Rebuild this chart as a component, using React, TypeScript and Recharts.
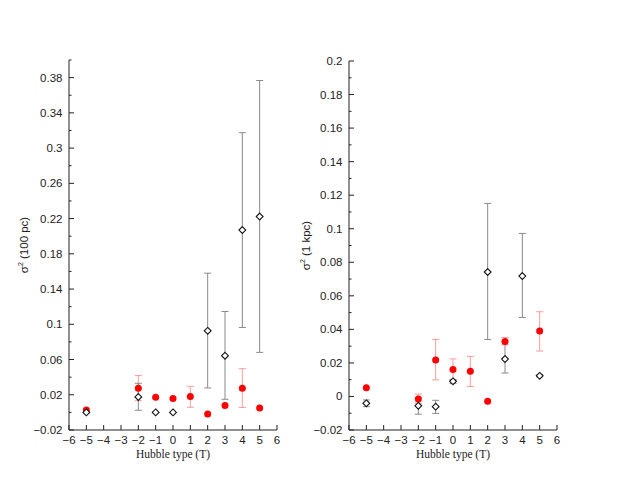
import React from "react"
import { ScatterChart, Scatter, XAxis, YAxis, ErrorBar } from "recharts"

// Hubble types along x
const types = [-5, -2, -1, 0, 1, 2, 3, 4, 5]

// sigma^2 at 100 pc
const black100 = [0.0, 0.0175, 0.0, 0.0, null, 0.0926, 0.0643, 0.207, 0.2223]
const black100Lo = [null, 0.0024, null, null, null, 0.0277, 0.0149, 0.0964, 0.0681]
const black100Hi = [null, 0.033, null, null, null, 0.158, 0.1145, 0.3175, 0.3767]
const red100 = [0.0027, 0.0274, 0.0172, 0.0157, 0.018, -0.0017, 0.0077, 0.0274, 0.0051]
const red100Lo = [null, 0.0133, null, null, 0.0058, null, null, 0.0055, null]
const red100Hi = [null, 0.0418, null, null, 0.0296, null, null, 0.0496, null]

// sigma^2 at 1 kpc
const black1k = [-0.0041, -0.0056, -0.0061, 0.009, null, 0.0742, 0.0223, 0.0718, 0.0123]
const black1kLo = [-0.0061, -0.0106, -0.0101, 0.0078, null, 0.034, 0.014, 0.0471, 0.0117]
const black1kHi = [-0.0021, -0.0008, -0.0023, 0.0101, null, 0.1151, 0.033, 0.0972, 0.0129]
const red1k = [0.0052, -0.0015, 0.0218, 0.0161, 0.0151, -0.0029, 0.0328, null, 0.039]
const red1kLo = [null, -0.0041, 0.0099, 0.0095, 0.006, null, 0.0308, null, 0.0271]
const red1kHi = [null, 0.0014, 0.034, 0.0224, 0.0239, null, 0.0352, null, 0.0505]

// axis ticks
const xTicks = [-6, -5, -4, -3, -2, -1, 0, 1, 2, 3, 4, 5, 6]
const y100Ticks = [-0.02, 0.02, 0.06, 0.1, 0.14, 0.18, 0.22, 0.26, 0.3, 0.34, 0.38]
const y100Minor = [0, 0.04, 0.08, 0.12, 0.16, 0.2, 0.24, 0.28, 0.32, 0.36, 0.4]
const y1kTicks = [-0.02, 0, 0.02, 0.04, 0.06, 0.08, 0.1, 0.12, 0.14, 0.16, 0.18, 0.2]
const y1kMinor = [-0.01, 0.01, 0.03, 0.05, 0.07, 0.09, 0.11, 0.13, 0.15, 0.17, 0.19]

const TICK_FONT = "'Liberation Sans', Arial, sans-serif"
const ERR_GREY = "#8a8a8a"
const ERR_RED = "#ff9a9a"

function build(vals: (number | null)[], lo: (number | null)[], hi: (number | null)[]) {
  const out: any[] = []
  vals.forEach((v, i) => {
    if (v == null) return
    const l = lo[i]
    const h = hi[i]
    out.push({
      t: types[i],
      v,
      err: l != null && h != null ? [v - l, h - v] : null,
    })
  })
  return out
}

const fmt = (v: number) => {
  const r = Math.round(v * 100) / 100
  if (r === 0) return "0"
  return (r < 0 ? "\u2212" : "") + String(Math.abs(r))
}

const isMajor = (v: number, majors: number[]) => majors.some((m) => Math.abs(m - v) < 1e-6)

const Diamond = (props: any) => {
  const { cx, cy } = props
  if (cx == null || cy == null) return null
  const r = 3.4
  return (
    <polygon
      points={`${cx},${cy - r} ${cx + r},${cy} ${cx},${cy + r} ${cx - r},${cy}`}
      fill="#fff"
      stroke="#111"
      strokeWidth={1.1}
    />
  )
}

const Dot = (props: any) => {
  const { cx, cy } = props
  if (cx == null || cy == null) return null
  return <circle cx={cx} cy={cy} r={3.5} fill="#ff0000" />
}

const BottomTick = ({ x, y, payload }: any) => (
  <g>
    <line x1={x} y1={y} x2={x} y2={y - 5} stroke="#222" />
    <text x={x} y={y + 14} textAnchor="middle" fontSize={11.5} fontFamily={TICK_FONT} fill="#222">
      {fmt(payload.value)}
    </text>
  </g>
)

const TopTick = ({ x, y }: any) => <line x1={x} y1={y} x2={x} y2={y + 5} stroke="#222" />

const makeLeftTick = (majors: number[]) => ({ x, y, payload }: any) => {
  const major = isMajor(payload.value, majors)
  return (
    <g>
      <line x1={x} y1={y} x2={x + (major ? 5 : 2.5)} y2={y} stroke="#222" />
      {major && (
        <text x={x - 6.5} y={y + 4} textAnchor="end" fontSize={11.5} fontFamily={TICK_FONT} fill="#222">
          {fmt(payload.value)}
        </text>
      )}
    </g>
  )
}

const makeRightTick = (majors: number[]) => ({ x, y, payload }: any) => {
  const major = isMajor(payload.value, majors)
  return <line x1={x} y1={y} x2={x - (major ? 5 : 2.5)} y2={y} stroke="#222" />
}

function Panel({
  width,
  axisWidth,
  top,
  yMax,
  majors,
  minors,
  black,
  red,
  label,
  labelX,
}: any) {
  const yTicks = [...majors, ...minors].sort((a, b) => a - b)
  const plotH = 430 - top
  return (
    <ScatterChart
      width={width}
      height={491}
      margin={{ top, right: width - axisWidth - 208, bottom: 31, left: 0 }}
    >
      <XAxis
        xAxisId="b"
        type="number"
        dataKey="t"
        domain={[-6, 6]}
        ticks={xTicks}
        interval={0}
        height={30}
        tickLine={false}
        tickSize={0}
        tickMargin={0}
        axisLine={{ stroke: "#222" }}
        tick={<BottomTick />}
        label={{
          value: "Hubble type (T)",
          position: "insideBottom",
          offset: 2,
          style: { fontFamily: "'Liberation Serif', 'Times New Roman', serif", fontSize: 11.5, fill: "#222" },
        }}
      />
      <XAxis
        xAxisId="t"
        orientation="top"
        type="number"
        dataKey="t"
        domain={[-6, 6]}
        ticks={xTicks}
        interval={0}
        height={0}
        tickLine={false}
        tickSize={0}
        tickMargin={0}
        axisLine={{ stroke: "#222" }}
        tick={<TopTick />}
      />
      <YAxis
        yAxisId="l"
        type="number"
        dataKey="v"
        domain={[-0.02, yMax]}
        ticks={yTicks}
        interval={0}
        width={axisWidth}
        tickLine={false}
        tickSize={0}
        tickMargin={0}
        allowDataOverflow
        axisLine={{ stroke: "#222" }}
        tick={makeLeftTick(majors)}
        label={({ viewBox }: any) => {
          const cy = (viewBox?.y ?? top) + (viewBox?.height ?? plotH) / 2
          return (
            <text
              x={labelX}
              y={cy}
              transform={`rotate(-90 ${labelX} ${cy})`}
              textAnchor="middle"
              fontSize={11.5}
              fontFamily={TICK_FONT}
              fill="#222"
            >
              {"\u03c3"}
              <tspan dy={-5} fontSize={7}>2</tspan>
              <tspan dy={5}>{label}</tspan>
            </text>
          )
        }}
      />
      <YAxis
        yAxisId="r"
        orientation="right"
        type="number"
        domain={[-0.02, yMax]}
        ticks={yTicks}
        interval={0}
        width={0}
        tickLine={false}
        tickSize={0}
        tickMargin={0}
        allowDataOverflow
        axisLine={{ stroke: "#222" }}
        tick={makeRightTick(majors)}
      />
      <Scatter xAxisId="b" yAxisId="l" data={red} dataKey="v" shape={<Dot />} isAnimationActive={false}>
        <ErrorBar dataKey="err" direction="y" width={3.5} stroke={ERR_RED} strokeWidth={1} />
      </Scatter>
      <Scatter xAxisId="b" yAxisId="l" data={black} dataKey="v" shape={<Diamond />} isAnimationActive={false}>
        <ErrorBar dataKey="err" direction="y" width={3.5} stroke={ERR_GREY} strokeWidth={1} />
      </Scatter>
    </ScatterChart>
  )
}

export default function App() {
  return (
    <div style={{ position: "absolute", left: 0, top: 0, width: 635, height: 491, background: "#fff" }}>
      <div style={{ position: "absolute", left: 0, top: 0 }}>
        <Panel
          width={290}
          axisWidth={69}
          top={60}
          yMax={0.4}
          majors={y100Ticks}
          minors={y100Minor}
          black={build(black100, black100Lo, black100Hi)}
          red={build(red100, red100Lo, red100Hi)}
          label=" (100 pc)"
          labelX={28}
        />
      </div>
      <div style={{ position: "absolute", left: 290, top: 0 }}>
        <Panel
          width={345}
          axisWidth={59}
          top={61}
          yMax={0.2}
          majors={y1kTicks}
          minors={y1kMinor}
          black={build(black1k, black1kLo, black1kHi)}
          red={build(red1k, red1kLo, red1kHi)}
          label=" (1 kpc)"
          labelX={20}
        />
      </div>
    </div>
  )
}
